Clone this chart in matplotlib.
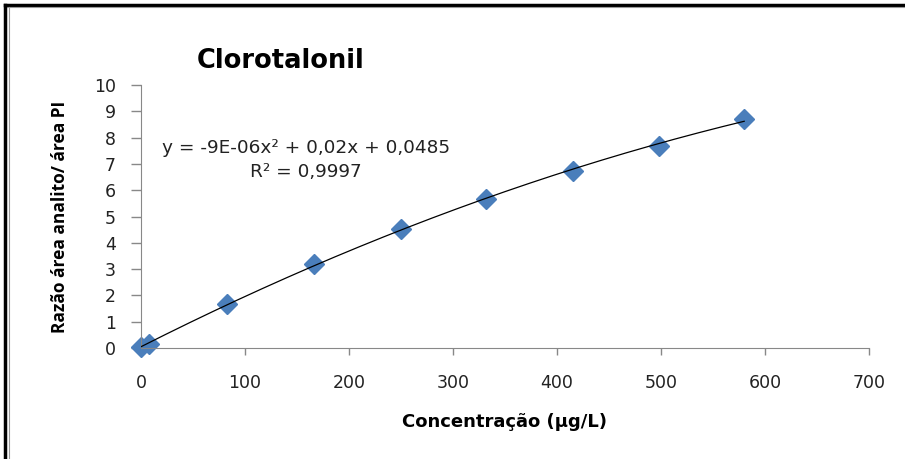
import numpy as np
import matplotlib.pyplot as plt
from matplotlib.lines import Line2D

conc = [0, 8, 83, 166, 250, 332, 415, 498, 580]
ratio = [0.03, 0.17, 1.66, 3.18, 4.52, 5.66, 6.72, 7.69, 8.72]
coef = [-9e-06, 0.02, 0.0485]
r2 = 0.9997
xticks = [0, 100, 200, 300, 400, 500, 600, 700]
yticks = list(range(0, 11))

fig = plt.figure(figsize=(9.05, 4.59), dpi=100)
ax = fig.add_axes([0.1558, 0.2418, 0.8044, 0.5730])

# quadratic trend line from the reported coefficients
xs = np.linspace(min(conc), max(conc), 200)
ax.plot(xs, np.polyval(coef, xs), color='black', lw=0.9, zorder=3)
ax.plot(conc, ratio, linestyle='none', marker='D', markersize=10,
        color='#4a7ebb', markeredgecolor='#4a7ebb', zorder=2, clip_on=False)

ax.set_xlim(0, 700)
ax.set_ylim(0, 10)
ax.set_xticks(xticks)
ax.set_yticks(yticks)
ax.tick_params(colors='#888888', labelcolor='#222222', labelsize=12.5,
               direction='out', width=1)
ax.tick_params(axis='y', length=7, pad=11)
ax.tick_params(axis='x', length=5, pad=14)
for s in ['top', 'right']:
    ax.spines[s].set_visible(False)
for s in ['left', 'bottom']:
    ax.spines[s].set_color('#888888')
for lab in ax.get_xticklabels() + ax.get_yticklabels():
    lab.set_family('DejaVu Sans')

ax.set_xlabel('Concentração (µg/L)', family='DejaVu Sans', fontweight='bold',
              fontsize=13, labelpad=15)
ax.set_ylabel('Razão área analito/ área PI', family='Open Sans',
              fontweight='bold', fontsize=12.5, labelpad=18)

eq = 'y = -9E-06x² + 0,02x + 0,0485'
fig.text(0.338, 0.678, eq, ha='center', va='center', fontsize=13.3,
         family='DejaVu Sans', color='#222222')
fig.text(0.338, 0.625, 'R² = ' + f'{r2:.4f}'.replace('.', ','), ha='center',
         va='center', fontsize=13.3, family='DejaVu Sans', color='#222222')

fig.text(0.217, 0.868, 'Clorotalonil', ha='left', va='center', fontsize=18.5,
         family='DejaVu Sans', fontweight='bold')

# outer frame on top and left
fig.add_artist(Line2D([0.006, 1.0], [0.989, 0.989], color='black', lw=2.5,
                      transform=fig.transFigure))
fig.add_artist(Line2D([0.006, 1.0], [0.984, 0.984], color='#999999', lw=0.8,
                      transform=fig.transFigure))
fig.add_artist(Line2D([0.006, 0.006], [0.0, 0.989], color='black', lw=2.5,
                      transform=fig.transFigure))
fig.add_artist(Line2D([0.0095, 0.0095], [0.0, 0.984], color='#999999', lw=0.8,
                      transform=fig.transFigure))

fig.savefig('out.png', dpi=100)
